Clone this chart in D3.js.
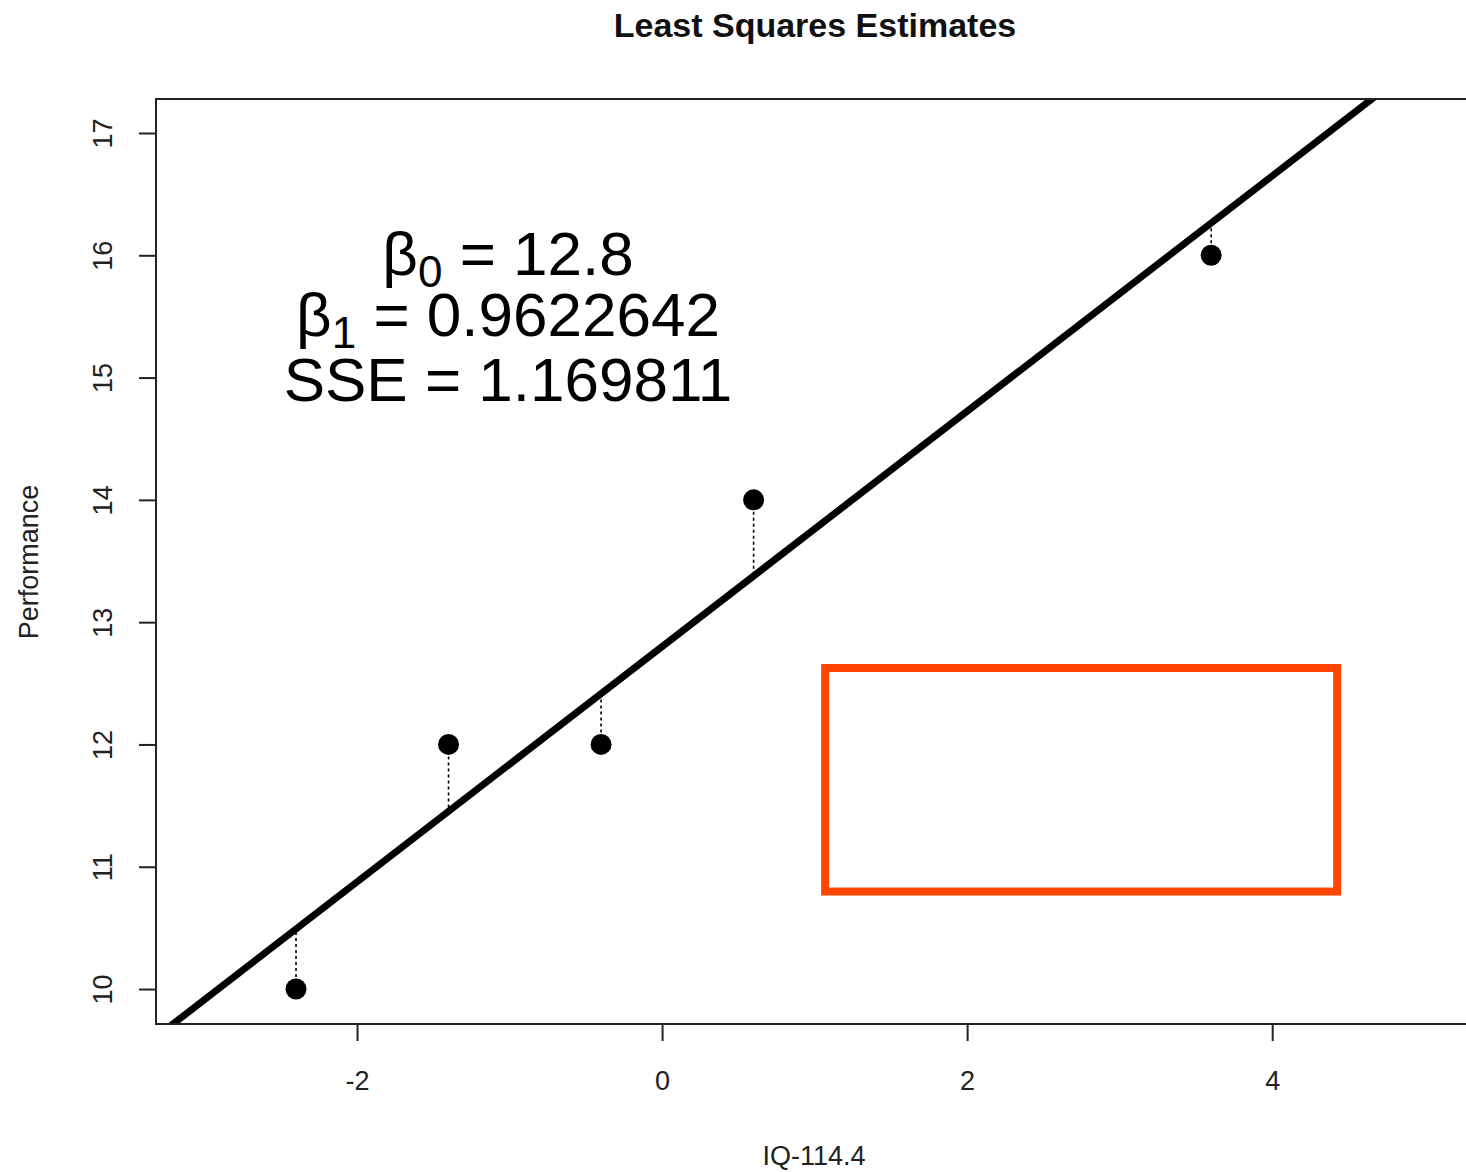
<!DOCTYPE html>
<html lang="en">
<head>
	<meta charset="UTF-8">
	<title>Least Squares Estimates</title>
	<script src="https://cdn.jsdelivr.net/npm/d3@7"></script>
	<style>
		html,body{margin:0;padding:0;background:#fff;}
		svg{display:block;font-family:"Liberation Sans",Arial,sans-serif;}
	</style>
</head>
<body>
	<svg id="chart" width="1466" height="1172"></svg>
	<script>
		// data
		var iqCentered = [-2.4, -1.4, -0.4, 0.6, 3.6];
		var performance = [10, 12, 12, 14, 16];
		var xTicks = [-2, 0, 2, 4];
		var yTicks = [10, 11, 12, 13, 14, 15, 16, 17];
		var estimates = [
			{sym: "β", sub: "0", val: "12.8"},
			{sym: "β", sub: "1", val: "0.9622642"},
			{sym: "SSE", sub: "", val: "1.169811"}
		];
		// highlight box corners in data units
		var boxX = [1.069, 4.426];
		var boxY = [12.625, 10.797];

		var pLeft = 156, pTop = 99, pRight = 1472, pBottom = 1024;
		var svg = d3.select("#chart");

		var x = d3.scaleLinear().domain([-3.318, 5.31]).range([pLeft, pRight]);
		var y = d3.scaleLinear().domain([9.714, 17.278]).range([pBottom, pTop]);

		// least squares fit
		var mx = d3.mean(iqCentered), my = d3.mean(performance);
		var sxy = d3.sum(iqCentered, (d, i) => (d - mx) * (performance[i] - my));
		var sxx = d3.sum(iqCentered, d => (d - mx) * (d - mx));
		var b1 = sxy / sxx, b0 = my - b1 * mx;
		var fit = v => b0 + b1 * v;

		svg.append("clipPath").attr("id", "clip")
			.append("rect").attr("x", pLeft).attr("y", pTop)
			.attr("width", pRight - pLeft).attr("height", pBottom - pTop);

		var plot = svg.append("g").attr("clip-path", "url(#clip)");

		// residuals
		plot.selectAll(".res").data(iqCentered).enter().append("line")
			.attr("x1", d => x(d)).attr("x2", d => x(d))
			.attr("y1", (d, i) => y(performance[i]))
			.attr("y2", d => y(fit(d)))
			.attr("stroke", "#000").attr("stroke-width", 1.6)
			.attr("stroke-dasharray", "3,3");

		// regression line
		var xd = x.domain();
		plot.append("line")
			.attr("x1", x(xd[0])).attr("y1", y(fit(xd[0])))
			.attr("x2", x(xd[1])).attr("y2", y(fit(xd[1])))
			.attr("stroke", "#000").attr("stroke-width", 7);

		// points
		plot.selectAll(".pt").data(iqCentered).enter().append("circle")
			.attr("cx", d => x(d)).attr("cy", (d, i) => y(performance[i]))
			.attr("r", 10.5).attr("fill", "#000");

		// frame
		svg.append("rect").attr("x", pLeft).attr("y", pTop)
			.attr("width", pRight - pLeft).attr("height", pBottom - pTop)
			.attr("fill", "none").attr("stroke", "#222").attr("stroke-width", 2);

		// x axis
		var xAxis = svg.append("g").attr("transform", "translate(0," + pBottom + ")")
			.call(d3.axisBottom(x).tickValues(xTicks).tickSize(17).tickPadding(30)
				.tickFormat(d3.format("d")));
		xAxis.select(".domain").remove();
		xAxis.selectAll("line").attr("stroke", "#222").attr("stroke-width", 2);
		xAxis.selectAll("text").attr("font-size", 27).attr("fill", "#222")
			.text(d => d < 0 ? "-" + Math.abs(d) : d);

		// y axis
		var yAxis = svg.append("g").attr("transform", "translate(" + pLeft + ",0)")
			.call(d3.axisLeft(y).tickValues(yTicks).tickSize(17).tickPadding(0));
		yAxis.select(".domain").remove();
		yAxis.selectAll("line").attr("stroke", "#222").attr("stroke-width", 2);
		yAxis.selectAll("text")
			.attr("x", null).attr("dy", null)
			.attr("text-anchor", "middle")
			.attr("font-size", 27).attr("fill", "#222")
			.attr("transform", "translate(-44,0) rotate(-90)");

		// titles
		svg.append("text").attr("x", 815).attr("y", 37)
			.attr("text-anchor", "middle").attr("font-weight", "bold")
			.attr("font-size", 34).attr("fill", "#111").text("Least Squares Estimates");
		svg.append("text").attr("x", 814).attr("y", 1165)
			.attr("text-anchor", "middle").attr("font-size", 27)
			.attr("fill", "#222").text("IQ-114.4");
		svg.append("text")
			.attr("transform", "translate(38,562) rotate(-90)")
			.attr("text-anchor", "middle").attr("font-size", 27)
			.attr("fill", "#222").text("Performance");

		// estimates text
		var baselines = [275, 336, 401];
		estimates.forEach(function(e, i) {
			var t = svg.append("text").attr("x", 508).attr("y", baselines[i])
				.attr("text-anchor", "middle").attr("font-size", 62).attr("fill", "#000");
			t.append("tspan").text(e.sym);
			if (e.sub) {
				t.append("tspan").attr("font-size", 44).attr("dy", 12).text(e.sub);
				t.append("tspan").attr("dy", -12).text(" = " + e.val);
			} else {
				t.append("tspan").text(" = " + e.val);
			}
		});

		// highlight box
		svg.append("rect")
			.attr("x", x(boxX[0])).attr("y", y(boxY[0]))
			.attr("width", x(boxX[1]) - x(boxX[0])).attr("height", y(boxY[1]) - y(boxY[0]))
			.attr("fill", "none").attr("stroke", "#FF4500").attr("stroke-width", 8);
	</script>
</body>
</html>
